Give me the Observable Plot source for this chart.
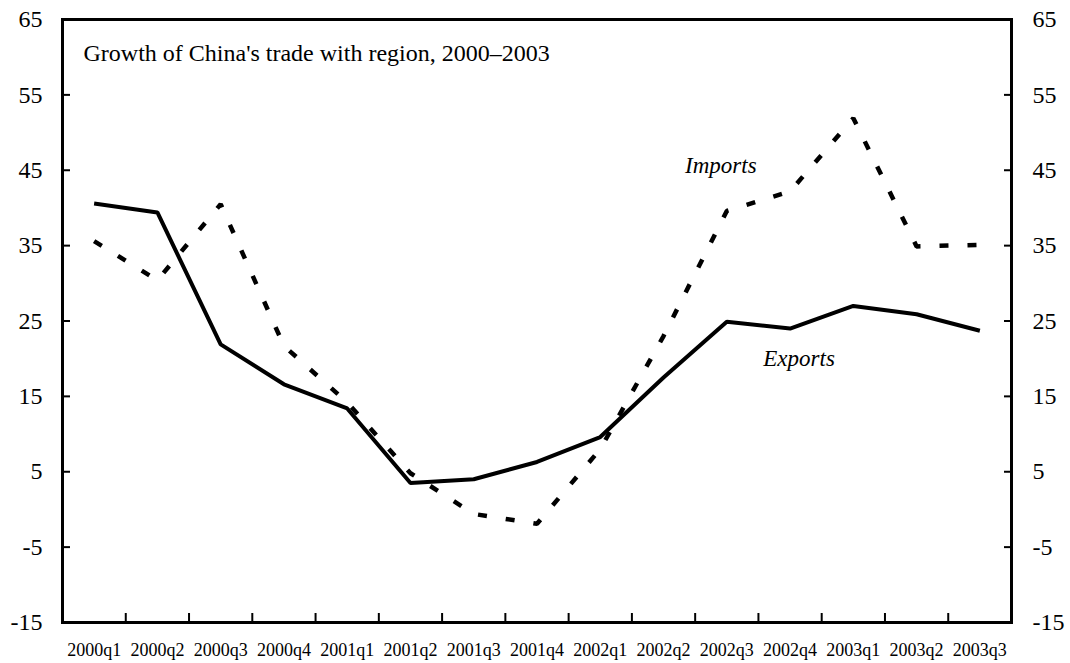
<!DOCTYPE html>
<html><head><meta charset="utf-8">
<script src="https://cdn.jsdelivr.net/npm/d3@7"></script>
<script src="https://cdn.jsdelivr.net/npm/@observablehq/plot@0.6"></script>
<style>body{margin:0;background:#fff}</style>
</head><body><div id="chart"></div>
<script>
const quarters = ["2000q1","2000q2","2000q3","2000q4","2001q1","2001q2","2001q3","2001q4","2002q1","2002q2","2002q3","2002q4","2003q1","2003q2","2003q3"];
const exportsGrowth = [40.6, 39.4, 21.9, 16.6, 13.4, 3.5, 4.0, 6.3, 9.6, 17.5, 24.9, 24.0, 27.0, 25.9, 23.7];
const importsGrowth = [35.6, 30.4, 40.5, 21.7, 14.2, 4.8, -0.6, -1.9, 8.0, 23.0, 39.6, 42.2, 51.9, 34.9, 35.1];
const yTicks = [65, 55, 45, 35, 25, 15, 5, -5, -15];
const title = "Growth of China's trade with region, 2000\u20132003";
const seriesLabels = [
  {name: "Imports", at: "2002q3", series: "imp"},
  {name: "Exports", at: "2002q4", series: "exp"}
];

const rows = quarters.map((q, i) => ({i, q, exp: exportsGrowth[i], imp: importsGrowth[i]}));
const idx = quarters.map((_, i) => i);
const bounds = quarters.slice(1).map((_, i) => i + 0.5);
const labelRows = seriesLabels.map(d => {
  const r = rows.find(r => r.q === d.at);
  return {name: d.name, i: r.i, v: r[d.series]};
});

const chart = Plot.plot({
  width: 1070, height: 663,
  marginLeft: 62, marginRight: 59, marginTop: 19, marginBottom: 41,
  style: {fontFamily: "Liberation Serif, Times New Roman, serif", background: "white", color: "black"},
  x: {type: "linear", domain: [-0.5, quarters.length - 0.5], label: null},
  y: {domain: [-15, 65], label: null},
  marks: [
    Plot.axisY(yTicks, {anchor: "left", tickSize: 0, tickPadding: 20, fontSize: 24, tickFormat: d => String(d), label: null}),
    Plot.axisY(yTicks, {anchor: "right", tickSize: 0, tickPadding: 21, fontSize: 24, tickFormat: d => String(d), label: null}),
    Plot.axisY(yTicks, {anchor: "left", tickSize: -8, strokeWidth: 2, tickFormat: () => "", label: null}),
    Plot.axisY(yTicks, {anchor: "right", tickSize: -8, strokeWidth: 2, tickFormat: () => "", label: null}),
    Plot.axisX(idx, {anchor: "bottom", tickSize: 0, tickPadding: 21, fontSize: 18, tickFormat: i => quarters[i], label: null}),
    Plot.axisX(bounds, {anchor: "bottom", tickSize: -9, strokeWidth: 2, tickFormat: () => "", label: null}),
    Plot.frame({stroke: "black", strokeWidth: 3}),
    Plot.lineY(rows, {x: "i", y: "imp", stroke: "black", strokeWidth: 4.5, strokeDasharray: "9,19", strokeLinecap: "butt", strokeLinejoin: "miter"}),
    Plot.lineY(rows, {x: "i", y: "exp", stroke: "black", strokeWidth: 4, strokeLinecap: "butt", strokeLinejoin: "miter"}),
    Plot.text([labelRows[0]], {x: "i", y: "v", text: "name", dx: -6, dy: -45, fontSize: 23, fontStyle: "italic", fill: "black"}),
    Plot.text([labelRows[1]], {x: "i", y: "v", text: "name", dx: 9, dy: 30, fontSize: 23, fontStyle: "italic", fill: "black"}),
    Plot.text([title], {frameAnchor: "top-left", dx: 21, dy: 34, textAnchor: "start", lineAnchor: "middle", fontSize: 24, fill: "black"})
  ]
});
document.getElementById("chart").appendChild(chart);
</script>
</body></html>
